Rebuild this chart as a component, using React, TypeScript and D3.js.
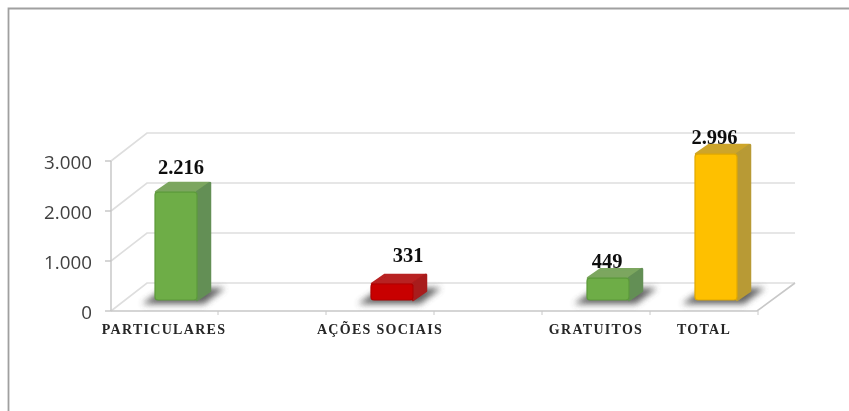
import React from "react";
import * as d3 from "d3";

const categories = ["PARTICULARES", "_a", "AÇÕES SOCIAIS", "_b", "GRATUITOS", "TOTAL"];
const barNames = ["PARTICULARES", "AÇÕES SOCIAIS", "GRATUITOS", "TOTAL"];
const barValues = [2216, 331, 449, 2996];
const barLabels = ["2.216", "331", "449", "2.996"];
const barKinds = ["green", "red", "green", "gold"];
const tickValues = [0, 1000, 2000, 3000];
const tickLabels = ["0", "1.000", "2.000", "3.000"];

const palette: Record<string, { front: string; side: string; top: string; edge: string }> = {
  green: { front: "#6ead47", side: "#648f55", top: "#7ba65f", edge: "#5c9a3a" },
  red: { front: "#c80000", side: "#a81c1c", top: "#b82020", edge: "#b00000" },
  gold: { front: "#fec000", side: "#b89a34", top: "#cda52c", edge: "#e0a800" },
};

const labelDy = [-18, -22, -10, -10];
const labelDx = [5, 16, -1, -1.5];

export default function App() {
  const x = d3.scaleBand<string>().domain(categories).range([110, 758]);
  const yAxis = d3.scaleLinear().domain([0, 3000]).range([311, 161]);
  const yBar = d3.scaleLinear().domain([0, 3000]).range([300, 153.9]);
  const dx = 36, dy = -28;
  const barW = 42, sideX = 13, sideY = -9;
  const grid = "#dedede";
  return (
    <svg width={849} height={411} style={{ position: "absolute", left: 0, top: 0, background: "#fff" }}>
      <defs>
        <filter id="soft" x="-5%" y="-5%" width="110%" height="110%"><feGaussianBlur stdDeviation="0.7" /></filter>
        <filter id="sh" x="-30%" y="-100%" width="160%" height="300%"><feGaussianBlur stdDeviation="3" /></filter>
      </defs>
      <g filter="url(#soft)">
        <path d="M8.5,411 V8.5 H849" fill="none" stroke="#a0a0a0" strokeWidth={1.8} />
        {tickValues.map((t) => (
          <g key={t}>
            <path
              d={`M${111},${yAxis(t)} L${111 + dx},${yAxis(t) + dy} H${795}`}
              fill="none" stroke={grid} strokeWidth={1.6}
            />
            <line x1={105} x2={111} y1={yAxis(t)} y2={yAxis(t)} stroke="#bbb" strokeWidth={1.2} />
          </g>
        ))}
        <line x1={111} x2={111} y1={yAxis(0)} y2={yAxis(3000)} stroke="#c4c4c4" strokeWidth={1.4} />
        <path d={`M111,${yAxis(0)} H757 L795,${yAxis(0) + dy}`} fill="none" stroke="#c8c8c8" strokeWidth={1.6} />
        {categories.map((c) => (
          <line key={c} x1={x(c)! + x.bandwidth()} x2={x(c)! + x.bandwidth()} y1={yAxis(0)} y2={yAxis(0) + 4} stroke="#c8c8c8" />
        ))}
        {tickValues.map((t, i) => (
          <text key={t} x={92} y={yAxis(t) + 7.5} textAnchor="end" fontFamily="'Open Sans', sans-serif" fontSize={18.8} fill="#404040">
            {tickLabels[i]}
          </text>
        ))}
        {barNames.map((name, i) => {
          const cx = x(name)! + x.bandwidth() / 2;
          const left = cx + 12 - barW / 2;
          const right = left + barW;
          const top = yBar(barValues[i]);
          const bot = yBar(0);
          const c = palette[barKinds[i]];
          return (
            <g key={name}>
              <path
                d={`M${left - 13},${bot + 4} L${left + 10},${bot - 12} H${right + 28} L${right + 7},${bot + 4} Z`}
                fill="#4a4a4a" opacity={0.85} filter="url(#sh)"
              />
              <path d={`M${left + 1},${top} L${left + sideX + 1},${top + sideY} H${right + sideX - 1} L${right},${top} Z`} fill={c.top} stroke={c.top} strokeLinejoin="round" strokeWidth={2.5} />
              <path d={`M${right},${top} L${right + sideX},${top + sideY} V${bot + sideY} L${right},${bot} Z`} fill={c.side} stroke={c.side} strokeLinejoin="round" strokeWidth={2.5} />
              <rect x={left} y={top} width={barW} height={bot - top} rx={3} fill={c.front} stroke={c.edge} strokeWidth={1.2} />
              <text x={cx + 12 + labelDx[i]} y={top + labelDy[i]} textAnchor="middle" fontFamily="'Liberation Serif', serif" fontWeight="bold" fontSize={20.5} fill="#111">
                {barLabels[i]}
              </text>
            </g>
          );
        })}
        {barNames.map((name) => (
          <text key={name} x={x(name)! + x.bandwidth() / 2} y={334} textAnchor="middle" fontFamily="'Liberation Serif', serif" fontWeight="bold" fontSize={14} letterSpacing={1.3} fill="#262626">
            {name}
          </text>
        ))}
      </g>
    </svg>
  );
}
